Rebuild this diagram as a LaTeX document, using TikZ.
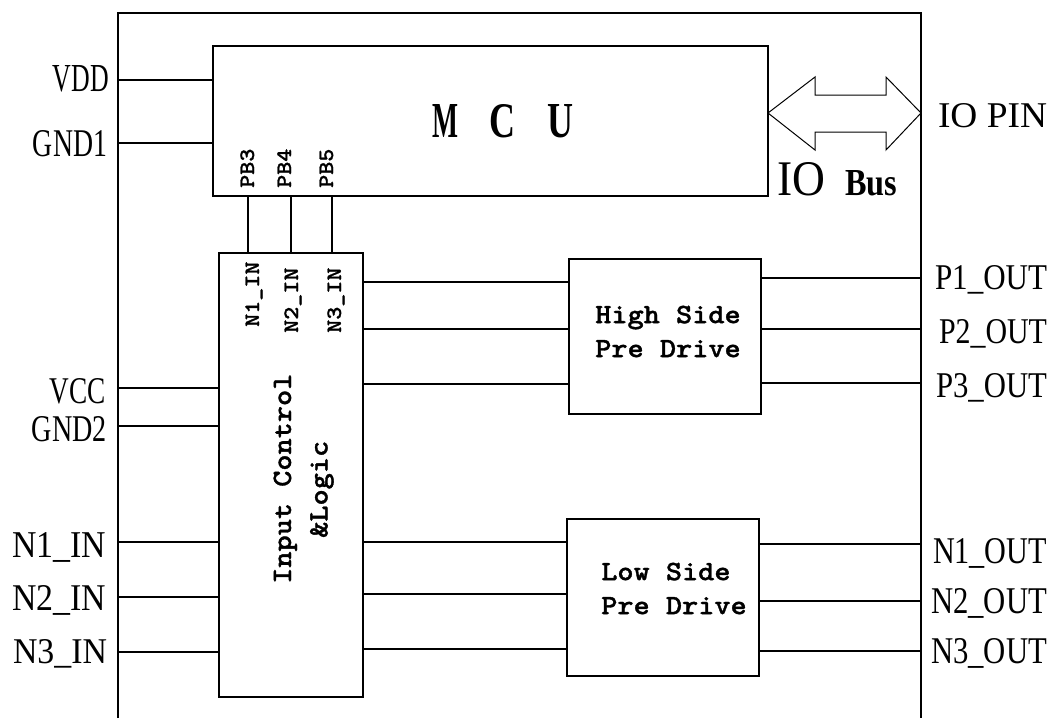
\documentclass[tikz,border=0pt]{standalone}
\usepackage{fontspec}
\usepackage{graphicx}
\setmainfont{Liberation Serif}
\newfontfamily\monofont{lmmonolt10-bold.otf}[FakeStretch=1.1, FakeBold=1.2]
\newfontfamily\monosmall{lmmonolt10-bold.otf}[FakeStretch=1.13, FakeBold=1.0]
\newcommand\lbl[3]{\resizebox{#1pt}{#2pt}{#3}}
\begin{document}
\begin{tikzpicture}[x=1pt,y=-1pt]
\tikzset{
  blk/.style={draw, line width=1.5pt, inner sep=0pt, outer sep=0pt, rectangle},
  wire/.style={line width=1.3pt},
  frameline/.style={line width=1.6pt},
  pin/.style={inner sep=0pt, outer sep=0pt, font=\rmfamily},
  rotsmall/.style={rotate=90, anchor=base west, inner sep=0pt, font=\monosmall\fontsize{22}{24}\selectfont},
  rotbig/.style={rotate=90, anchor=base west, inner sep=0pt, font=\monofont\fontsize{28}{34}\selectfont},
  drv/.style={inner sep=0pt, align=left, font=\monofont\fontsize{28}{34}\selectfont},
  bus/.style={line width=1pt, fill=white, line join=miter},
}
\useasboundingbox (0,0) rectangle (1054,718);
\fill[white] (0,0) rectangle (1054,718);

% frame
\coordinate (fbl) at (118,718);
\coordinate (ftl) at (118,13);
\coordinate (ftr) at (921,13);
\coordinate (fbr) at (921,718);
\draw[frameline] (fbl) -- (ftl) -- (ftr) -- (fbr);

% blocks
\node[blk, minimum width=555pt, minimum height=150pt] (mcu) at (490.5,121) {};
\node[blk, minimum width=144pt, minimum height=444pt] (ic) at (291,475) {};
\node[blk, minimum width=192pt, minimum height=155pt] (hs) at (665,336.5) {};
\node[blk, minimum width=192pt, minimum height=157pt] (ls) at (663,597.5) {};

% block texts
\node[anchor=base west, inner sep=0pt] (mcut) at (432,137)
  {\lbl{26}{33}{\bfseries M}\hspace{31pt}\lbl{26}{33}{\bfseries C}\hspace{32pt}\lbl{26}{33}{\bfseries U}};
\node[rotbig] (ict1) at (291,584) {Input Control};
\node[rotbig] (ict2) at (327.5,538) {\&Logic};
\node[drv] (hst) at (668,331.5) {High Side\\Pre Drive};
\node[drv] (lst) at (674,588.5) {Low Side\\Pre Drive};

% MCU supply pins
\foreach \n/\y in {vdd/80, gnd1/143} {
  \coordinate (\n) at (118,\y);
  \draw[wire] (\n) -- (\n -| mcu.west);
}
\node[pin, anchor=base east] (lvdd) at (109,91) {\lbl{56}{26}{VDD}};
\node[pin, anchor=base east] (lgnd1) at (107,156) {\lbl{74}{26}{GND1}};

% input control pins
\foreach \n/\y in {vcc/388, gnd2/426, n1in/542, n2in/597, n3in/652} {
  \coordinate (\n) at (118,\y);
  \draw[wire] (\n) -- (\n -| ic.west);
}
\node[pin, anchor=base east] (lvcc) at (106,403) {\lbl{56}{25}{VCC}};
\node[pin, anchor=base east] (lgnd2) at (107,441) {\lbl{75}{25}{GND2}};
\node[pin, anchor=base east] (ln1in) at (106,557) {\lbl{94}{25}{N1\_IN}};
\node[pin, anchor=base east] (ln2in) at (106,610) {\lbl{94}{25}{N2\_IN}};
\node[pin, anchor=base east] (ln3in) at (107,663) {\lbl{94}{24}{N3\_IN}};

% PB lines
\foreach \n/\x in {pb3/248, pb4/291, pb5/332} {
  \coordinate (\n) at (\x,0);
  \draw[wire] (mcu.south -| \n) -- (ic.north -| \n);
}
\node[rotsmall] (tpb3) at (254,188) {PB3};
\node[rotsmall] (tpb4) at (291,188) {PB4};
\node[rotsmall] (tpb5) at (333,188) {PB5};
\node[rotsmall] (tn1) at (259,327) {N1\_IN};
\node[rotsmall] (tn2) at (298,333) {N2\_IN};
\node[rotsmall] (tn3) at (341,333) {N3\_IN};

% IC to drivers
\foreach \n/\y in {h1/282, h2/329, h3/384} {
  \coordinate (\n) at (0,\y);
  \draw[wire] (ic.east |- \n) -- (hs.west |- \n);
}
\foreach \n/\y in {l1/542, l2/594, l3/649} {
  \coordinate (\n) at (0,\y);
  \draw[wire] (ic.east |- \n) -- (ls.west |- \n);
}

% driver outputs
\foreach \n/\y in {p1/278, p2/329, p3/383} {
  \coordinate (\n) at (921,\y);
  \draw[wire] (hs.east |- \n) -- (\n);
}
\foreach \n/\y in {n1o/544, n2o/601, n3o/651} {
  \coordinate (\n) at (921,\y);
  \draw[wire] (ls.east |- \n) -- (\n);
}
\node[pin, anchor=base east] (lp1) at (1047,289) {\lbl{112}{24}{P1\_OUT}};
\node[pin, anchor=base east] (lp2) at (1047,343) {\lbl{108}{24}{P2\_OUT}};
\node[pin, anchor=base east] (lp3) at (1047,397) {\lbl{111}{24}{P3\_OUT}};
\node[pin, anchor=base east] (ln1o) at (1047,563) {\lbl{114}{25}{N1\_OUT}};
\node[pin, anchor=base east] (ln2o) at (1047,613) {\lbl{116}{25}{N2\_OUT}};
\node[pin, anchor=base east] (ln3o) at (1047,663) {\lbl{116}{25}{N3\_OUT}};

% IO bus arrow
\coordinate (busL) at (mcu.east |- 0,113);
\coordinate (busR) at (921,113);
\draw[bus] (busL) -- ++(47,-36) -- ++(0,18) -- ++(71,0) -- ++(0,-18) -- (busR)
  -- ++(-35,37) -- ++(0,-18) -- ++(-71,0) -- ++(0,18) -- cycle;
\node[pin, anchor=base west] (liobus) at (777,195) {\lbl{48}{33}{IO}\hspace{20pt}\lbl{52}{25}{\bfseries Bus}};
\node[pin, anchor=base east] (liopin) at (1047,127) {\lbl{109}{24}{IO PIN}};
\end{tikzpicture}
\end{document}
